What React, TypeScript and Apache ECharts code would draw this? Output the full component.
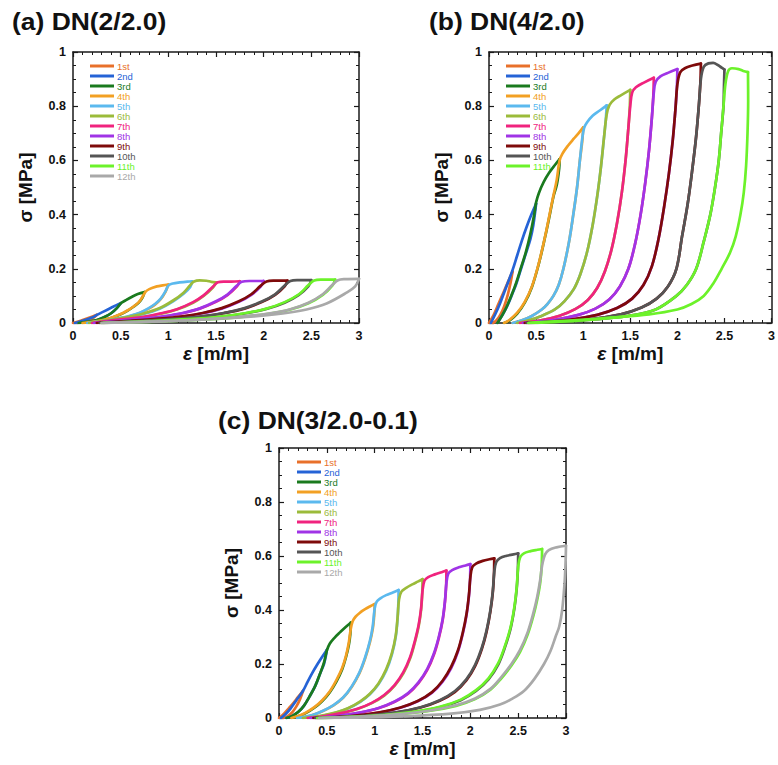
import React, { useEffect, useRef } from 'react';
import * as echarts from 'echarts';

const CYCLE_NAMES = ['1st', '2nd', '3rd', '4th', '5th', '6th', '7th', '8th', '9th', '10th', '11th', '12th'];
const CYCLE_COLORS = ['#E8702A', '#2563D6', '#1A7A1E', '#F2A023', '#5BB9EE', '#9BBB3A', '#F0237E', '#A034E6', '#7E0A0A', '#555555', '#6CF22A', '#A9A9A9'];
const PANEL_TITLES = ['(a) DN(2/2.0)', '(b) DN(4/2.0)', '(c) DN(3/2.0-0.1)'];
const STRAIN_MIN = 0, STRAIN_MAX = 3, STRAIN_STEP = 0.5;
const STRESS_MIN = 0, STRESS_MAX = 1, STRESS_STEP = 0.2;

// ---------- Panel (a) DN(2/2.0): loading and unloading branches per cycle ----------
const loadingA = [
  [[0,0],[0.08,0.008],[0.16,0.018],[0.25,0.03]],
  [[0.02,0],[0.1,0.008],[0.2,0.02],[0.25,0.03],[0.32,0.042],[0.4,0.056],[0.45,0.065],[0.5,0.073]],
  [[0.06,0],[0.15,0.004],[0.25,0.011],[0.32,0.02],[0.4,0.036],[0.46,0.055],[0.5,0.072],[0.55,0.083],[0.62,0.097],[0.68,0.107],[0.75,0.114]],
  [[0.1,0],[0.2,0.004],[0.3,0.01],[0.4,0.019],[0.5,0.033],[0.57,0.046],[0.635,0.061],[0.69,0.077],[0.73,0.097],[0.76,0.115],[0.8,0.125],[0.88,0.135],[0.94,0.139],[1.0,0.142]],
  [[0.15,0],[0.26,0.005],[0.38,0.011],[0.5,0.019],[0.6,0.027],[0.7,0.038],[0.79,0.054],[0.86,0.07],[0.92,0.09],[0.97,0.117],[1.0,0.138],[1.05,0.146],[1.12,0.15],[1.2,0.153],[1.25,0.154]],
  [[0.17,0],[0.25,0.005],[0.39,0.012],[0.56,0.021],[0.74,0.035],[0.91,0.055],[1.05,0.083],[1.16,0.112],[1.23,0.14],[1.27,0.153],[1.33,0.157],[1.4,0.156],[1.45,0.152],[1.5,0.15]],
  [[0.2,0],[0.39,0.009],[0.56,0.015],[0.74,0.023],[0.91,0.035],[1.09,0.051],[1.26,0.077],[1.37,0.102],[1.47,0.135],[1.52,0.15],[1.58,0.153],[1.66,0.153],[1.75,0.154]],
  [[0.22,0],[0.5,0.009],[0.75,0.017],[0.95,0.025],[1.15,0.037],[1.33,0.054],[1.5,0.08],[1.62,0.105],[1.72,0.138],[1.77,0.152],[1.85,0.155],[2.0,0.155]],
  [[0.25,0],[0.6,0.008],[0.9,0.016],[1.15,0.025],[1.36,0.037],[1.56,0.055],[1.74,0.08],[1.87,0.106],[1.97,0.138],[2.03,0.153],[2.1,0.156],[2.25,0.156]],
  [[0.28,0],[0.7,0.007],[1.05,0.015],[1.35,0.025],[1.58,0.037],[1.8,0.055],[1.98,0.079],[2.12,0.106],[2.22,0.138],[2.28,0.155],[2.35,0.158],[2.5,0.158]],
  [[0.3,0],[0.8,0.007],[1.2,0.014],[1.55,0.024],[1.8,0.036],[2.03,0.053],[2.22,0.077],[2.37,0.106],[2.47,0.14],[2.53,0.157],[2.6,0.16],[2.75,0.16]],
  [[0.32,0],[0.9,0.006],[1.35,0.013],[1.75,0.023],[2.05,0.035],[2.28,0.051],[2.47,0.075],[2.62,0.106],[2.72,0.14],[2.78,0.158],[2.85,0.162],[3.0,0.163]],
];
const unloadingA = [
  [[0.25,0.03],[0.2,0.015],[0.14,0.006],[0.08,0.001],[0.04,0]],
  [[0.5,0.073],[0.46,0.055],[0.4,0.036],[0.32,0.02],[0.24,0.009],[0.15,0.003],[0.06,0]],
  [[0.75,0.114],[0.73,0.095],[0.69,0.075],[0.635,0.06],[0.57,0.045],[0.5,0.032],[0.4,0.018],[0.28,0.008],[0.16,0.002],[0.1,0]],
  [[1.0,0.142],[0.97,0.115],[0.92,0.088],[0.86,0.068],[0.79,0.052],[0.7,0.037],[0.6,0.026],[0.5,0.018],[0.38,0.01],[0.26,0.004],[0.15,0]],
  [[1.25,0.154],[1.23,0.133],[1.16,0.108],[1.05,0.08],[0.91,0.053],[0.74,0.033],[0.56,0.02],[0.39,0.011],[0.25,0.004],[0.17,0]],
  [[1.5,0.15],[1.47,0.132],[1.37,0.1],[1.26,0.075],[1.09,0.05],[0.91,0.033],[0.74,0.022],[0.56,0.014],[0.39,0.008],[0.2,0]],
  [[1.75,0.154],[1.72,0.135],[1.62,0.103],[1.5,0.078],[1.33,0.053],[1.15,0.036],[0.95,0.024],[0.75,0.016],[0.5,0.008],[0.22,0]],
  [[2.0,0.155],[1.97,0.135],[1.87,0.104],[1.74,0.078],[1.56,0.053],[1.36,0.036],[1.15,0.024],[0.9,0.015],[0.6,0.007],[0.25,0]],
  [[2.25,0.156],[2.22,0.135],[2.12,0.104],[1.98,0.077],[1.8,0.053],[1.58,0.036],[1.35,0.024],[1.05,0.014],[0.7,0.006],[0.28,0]],
  [[2.5,0.158],[2.47,0.136],[2.37,0.104],[2.22,0.075],[2.03,0.052],[1.8,0.035],[1.55,0.023],[1.2,0.013],[0.8,0.006],[0.3,0]],
  [[2.75,0.16],[2.72,0.138],[2.62,0.104],[2.47,0.073],[2.28,0.05],[2.05,0.034],[1.75,0.022],[1.35,0.012],[0.9,0.005],[0.32,0]],
  [[3.0,0.163],[2.96,0.135],[2.87,0.112],[2.66,0.072],[2.45,0.05],[2.2,0.035],[1.9,0.024],[1.5,0.015],[1.0,0.007],[0.5,0.002],[0.3,0]],
];

// ---------- Panel (b) DN(4/2.0) ----------
const loadingB = [
  [[0,0],[0.05,0.03],[0.1,0.07],[0.15,0.11],[0.2,0.15],[0.25,0.19]],
  [[0.02,0],[0.07,0.035],[0.12,0.075],[0.18,0.13],[0.25,0.195],[0.3,0.25],[0.35,0.305],[0.4,0.355],[0.45,0.4],[0.5,0.44]],
  [[0.09,0],[0.14,0.028],[0.19,0.062],[0.245,0.108],[0.29,0.15],[0.34,0.205],[0.39,0.26],[0.44,0.33],[0.48,0.4],[0.5,0.445],[0.53,0.48],[0.58,0.52],[0.64,0.555],[0.7,0.583],[0.75,0.605]],
  [[0.16,0],[0.22,0.012],[0.3,0.038],[0.38,0.078],[0.456,0.135],[0.53,0.222],[0.596,0.32],[0.64,0.395],[0.684,0.47],[0.72,0.53],[0.75,0.6],[0.78,0.625],[0.84,0.655],[0.9,0.68],[0.95,0.7],[1.0,0.722]],
  [[0.25,0],[0.35,0.01],[0.45,0.025],[0.56,0.05],[0.62,0.07],[0.684,0.1],[0.74,0.14],[0.79,0.2],[0.85,0.3],[0.895,0.4],[0.935,0.5],[0.965,0.6],[0.99,0.68],[1.01,0.72],[1.04,0.74],[1.1,0.765],[1.18,0.785],[1.25,0.803]],
  [[0.3,0],[0.42,0.01],[0.55,0.025],[0.7,0.05],[0.8,0.08],[0.9,0.125],[0.97,0.18],[1.04,0.26],[1.1,0.36],[1.15,0.47],[1.19,0.58],[1.22,0.68],[1.25,0.77],[1.28,0.805],[1.33,0.825],[1.4,0.84],[1.5,0.86]],
  [[0.33,0],[0.55,0.01],[0.75,0.027],[0.92,0.052],[1.05,0.085],[1.15,0.13],[1.23,0.19],[1.3,0.27],[1.36,0.37],[1.41,0.48],[1.45,0.6],[1.48,0.72],[1.5,0.8],[1.52,0.85],[1.56,0.87],[1.65,0.888],[1.75,0.905]],
  [[0.36,0],[0.7,0.012],[0.95,0.03],[1.13,0.053],[1.28,0.088],[1.39,0.135],[1.48,0.2],[1.55,0.29],[1.61,0.4],[1.66,0.52],[1.7,0.64],[1.73,0.76],[1.75,0.85],[1.77,0.89],[1.82,0.91],[1.9,0.923],[2.0,0.937]],
  [[0.38,0],[0.85,0.012],[1.15,0.03],[1.36,0.055],[1.52,0.09],[1.64,0.14],[1.73,0.21],[1.8,0.31],[1.86,0.43],[1.91,0.55],[1.95,0.67],[1.98,0.79],[2.0,0.88],[2.03,0.925],[2.08,0.94],[2.16,0.95],[2.25,0.957]],
  [[0.4,0],[1.05,0.013],[1.4,0.032],[1.62,0.057],[1.78,0.09],[1.9,0.135],[1.99,0.2],[2.05,0.32],[2.11,0.44],[2.16,0.57],[2.2,0.69],[2.23,0.81],[2.25,0.9],[2.28,0.945],[2.33,0.958],[2.38,0.96],[2.43,0.952],[2.47,0.942],[2.5,0.935]],
  [[0.42,0],[1.0,0.01],[1.5,0.027],[1.77,0.05],[1.99,0.1],[2.1,0.14],[2.2,0.2],[2.28,0.3],[2.35,0.4],[2.4,0.5],[2.44,0.6],[2.465,0.7],[2.49,0.8],[2.51,0.88],[2.54,0.93],[2.58,0.94],[2.65,0.937],[2.7,0.93],[2.75,0.926]],
];
const unloadingB = [
  [[0.25,0.19],[0.23,0.15],[0.2,0.105],[0.16,0.06],[0.12,0.03],[0.08,0.01],[0.04,0]],
  [[0.5,0.44],[0.49,0.41],[0.47,0.36],[0.44,0.31],[0.39,0.255],[0.34,0.2],[0.29,0.145],[0.245,0.105],[0.19,0.06],[0.14,0.028],[0.09,0]],
  [[0.75,0.605],[0.745,0.57],[0.72,0.51],[0.684,0.466],[0.64,0.39],[0.596,0.318],[0.53,0.22],[0.456,0.133],[0.38,0.075],[0.3,0.035],[0.22,0.01],[0.16,0]],
  [[1.0,0.722],[0.99,0.67],[0.965,0.6],[0.935,0.5],[0.895,0.4],[0.85,0.3],[0.79,0.2],[0.74,0.14],[0.684,0.1],[0.62,0.07],[0.56,0.05],[0.45,0.025],[0.35,0.01],[0.25,0]],
  [[1.25,0.803],[1.24,0.75],[1.22,0.68],[1.19,0.58],[1.15,0.47],[1.1,0.36],[1.04,0.26],[0.97,0.18],[0.9,0.125],[0.8,0.08],[0.7,0.05],[0.55,0.025],[0.42,0.01],[0.3,0]],
  [[1.5,0.86],[1.495,0.8],[1.48,0.72],[1.45,0.6],[1.41,0.48],[1.36,0.37],[1.3,0.27],[1.23,0.19],[1.15,0.13],[1.05,0.085],[0.92,0.052],[0.75,0.027],[0.55,0.01],[0.33,0]],
  [[1.75,0.905],[1.745,0.84],[1.73,0.76],[1.7,0.64],[1.66,0.52],[1.61,0.4],[1.55,0.29],[1.48,0.2],[1.39,0.135],[1.28,0.088],[1.13,0.053],[0.95,0.03],[0.7,0.012],[0.36,0]],
  [[2.0,0.937],[1.995,0.87],[1.98,0.79],[1.95,0.67],[1.91,0.55],[1.86,0.43],[1.8,0.31],[1.73,0.21],[1.64,0.14],[1.52,0.09],[1.36,0.055],[1.15,0.03],[0.85,0.012],[0.38,0]],
  [[2.25,0.957],[2.245,0.89],[2.23,0.81],[2.2,0.69],[2.16,0.57],[2.11,0.44],[2.05,0.32],[1.99,0.2],[1.9,0.135],[1.78,0.09],[1.62,0.057],[1.4,0.032],[1.05,0.013],[0.4,0]],
  [[2.5,0.935],[2.495,0.87],[2.49,0.8],[2.465,0.7],[2.44,0.6],[2.4,0.5],[2.35,0.4],[2.28,0.3],[2.2,0.2],[2.1,0.14],[1.99,0.1],[1.77,0.05],[1.5,0.027],[1.0,0.01],[0.42,0]],
  [[2.75,0.926],[2.752,0.82],[2.745,0.7],[2.73,0.58],[2.705,0.48],[2.67,0.4],[2.62,0.32],[2.56,0.26],[2.47,0.2],[2.38,0.145],[2.28,0.1],[2.15,0.07],[2.0,0.05],[1.7,0.032],[1.3,0.02],[0.9,0.01],[0.5,0.002],[0.42,0]],
];

// ---------- Panel (c) DN(3/2.0-0.1) ----------
const loadingC = [
  [[0,0],[0.05,0.015],[0.1,0.035],[0.15,0.055],[0.2,0.078],[0.25,0.1]],
  [[0.02,0],[0.07,0.015],[0.12,0.035],[0.18,0.065],[0.25,0.1],[0.3,0.135],[0.35,0.168],[0.4,0.198],[0.45,0.226],[0.5,0.252]],
  [[0.08,0],[0.14,0.008],[0.2,0.022],[0.26,0.045],[0.32,0.08],[0.38,0.12],[0.43,0.165],[0.47,0.205],[0.5,0.25],[0.53,0.275],[0.58,0.297],[0.64,0.318],[0.7,0.338],[0.75,0.353]],
  [[0.13,0],[0.2,0.007],[0.28,0.02],[0.37,0.04],[0.45,0.065],[0.53,0.098],[0.6,0.14],[0.66,0.185],[0.7,0.23],[0.73,0.28],[0.75,0.33],[0.77,0.358],[0.8,0.375],[0.85,0.391],[0.9,0.403],[0.95,0.413],[1.0,0.422]],
  [[0.19,0],[0.25,0.003],[0.35,0.011],[0.46,0.027],[0.57,0.048],[0.67,0.076],[0.76,0.117],[0.84,0.168],[0.9,0.224],[0.95,0.285],[0.98,0.34],[1.0,0.405],[1.02,0.43],[1.06,0.443],[1.12,0.455],[1.19,0.465],[1.25,0.474]],
  [[0.25,0],[0.32,0.002],[0.45,0.009],[0.6,0.021],[0.72,0.036],[0.85,0.062],[0.95,0.09],[1.04,0.128],[1.12,0.18],[1.18,0.24],[1.22,0.305],[1.24,0.375],[1.255,0.44],[1.28,0.468],[1.33,0.482],[1.4,0.496],[1.45,0.505],[1.5,0.514]],
  [[0.3,0],[0.48,0.007],[0.65,0.018],[0.82,0.034],[0.97,0.056],[1.1,0.085],[1.21,0.123],[1.3,0.17],[1.37,0.225],[1.42,0.285],[1.46,0.345],[1.485,0.405],[1.5,0.47],[1.52,0.508],[1.56,0.522],[1.63,0.532],[1.7,0.54],[1.75,0.546]],
  [[0.33,0],[0.6,0.007],[0.84,0.02],[1.04,0.037],[1.21,0.061],[1.35,0.092],[1.46,0.133],[1.55,0.182],[1.62,0.24],[1.67,0.3],[1.71,0.365],[1.735,0.435],[1.75,0.5],[1.77,0.535],[1.81,0.548],[1.88,0.558],[1.95,0.565],[2.0,0.57]],
  [[0.36,0],[0.75,0.007],[1.05,0.021],[1.27,0.039],[1.45,0.063],[1.6,0.096],[1.71,0.138],[1.8,0.19],[1.87,0.25],[1.92,0.315],[1.96,0.385],[1.985,0.455],[2.0,0.52],[2.02,0.558],[2.06,0.572],[2.13,0.582],[2.2,0.588],[2.25,0.591]],
  [[0.38,0],[0.85,0.007],[1.22,0.021],[1.48,0.04],[1.68,0.066],[1.84,0.1],[1.96,0.144],[2.05,0.197],[2.12,0.26],[2.17,0.325],[2.21,0.4],[2.235,0.47],[2.25,0.54],[2.27,0.577],[2.31,0.592],[2.38,0.601],[2.45,0.606],[2.5,0.61]],
  [[0.4,0],[0.95,0.007],[1.38,0.022],[1.68,0.041],[1.9,0.068],[2.06,0.103],[2.19,0.147],[2.29,0.202],[2.36,0.265],[2.42,0.335],[2.46,0.41],[2.485,0.485],[2.5,0.56],[2.52,0.595],[2.56,0.61],[2.63,0.618],[2.7,0.623],[2.75,0.626]],
  [[0.42,0],[1.1,0.01],[1.55,0.026],[1.85,0.047],[2.05,0.072],[2.21,0.108],[2.32,0.15],[2.43,0.2],[2.52,0.252],[2.6,0.318],[2.66,0.39],[2.7,0.45],[2.73,0.51],[2.75,0.565],[2.78,0.605],[2.82,0.622],[2.9,0.632],[3.0,0.638]],
];
const unloadingC = [
  [[0.25,0.1],[0.22,0.07],[0.18,0.042],[0.14,0.022],[0.1,0.009],[0.06,0.002],[0.03,0]],
  [[0.5,0.252],[0.49,0.23],[0.47,0.2],[0.43,0.165],[0.38,0.12],[0.32,0.08],[0.26,0.045],[0.2,0.022],[0.14,0.008],[0.08,0]],
  [[0.75,0.353],[0.745,0.31],[0.73,0.27],[0.7,0.225],[0.66,0.18],[0.6,0.135],[0.53,0.095],[0.45,0.062],[0.37,0.038],[0.28,0.018],[0.2,0.006],[0.13,0]],
  [[1.0,0.422],[0.995,0.38],[0.98,0.33],[0.95,0.28],[0.9,0.22],[0.84,0.165],[0.76,0.115],[0.67,0.075],[0.57,0.047],[0.46,0.026],[0.35,0.011],[0.25,0.003],[0.19,0]],
  [[1.25,0.474],[1.248,0.43],[1.24,0.37],[1.22,0.3],[1.18,0.235],[1.12,0.175],[1.04,0.125],[0.95,0.088],[0.85,0.06],[0.72,0.035],[0.6,0.02],[0.45,0.008],[0.32,0.002],[0.25,0]],
  [[1.5,0.514],[1.497,0.46],[1.485,0.4],[1.46,0.34],[1.42,0.28],[1.37,0.22],[1.3,0.165],[1.21,0.12],[1.1,0.083],[0.97,0.055],[0.82,0.033],[0.65,0.017],[0.48,0.007],[0.3,0]],
  [[1.75,0.546],[1.747,0.49],[1.735,0.43],[1.71,0.36],[1.67,0.295],[1.62,0.235],[1.55,0.178],[1.46,0.13],[1.35,0.09],[1.21,0.06],[1.04,0.036],[0.84,0.019],[0.6,0.007],[0.33,0]],
  [[2.0,0.57],[1.997,0.51],[1.985,0.45],[1.96,0.38],[1.92,0.31],[1.87,0.245],[1.8,0.185],[1.71,0.135],[1.6,0.094],[1.45,0.062],[1.27,0.038],[1.05,0.02],[0.75,0.007],[0.36,0]],
  [[2.25,0.591],[2.247,0.53],[2.235,0.465],[2.21,0.395],[2.17,0.32],[2.12,0.255],[2.05,0.192],[1.96,0.14],[1.84,0.097],[1.68,0.064],[1.48,0.039],[1.22,0.02],[0.85,0.007],[0.38,0]],
  [[2.5,0.61],[2.497,0.55],[2.485,0.48],[2.46,0.405],[2.42,0.33],[2.36,0.26],[2.29,0.197],[2.19,0.143],[2.06,0.1],[1.9,0.066],[1.68,0.04],[1.38,0.021],[0.95,0.007],[0.4,0]],
  [[2.75,0.626],[2.745,0.56],[2.73,0.5],[2.7,0.44],[2.66,0.38],[2.6,0.31],[2.52,0.245],[2.43,0.195],[2.32,0.145],[2.21,0.105],[2.05,0.07],[1.85,0.045],[1.55,0.025],[1.1,0.01],[0.42,0]],
  [[3.0,0.638],[2.995,0.57],[2.985,0.5],[2.96,0.4],[2.93,0.34],[2.89,0.3],[2.84,0.25],[2.77,0.2],[2.67,0.145],[2.56,0.1],[2.43,0.07],[2.31,0.05],[2.1,0.03],[1.8,0.016],[1.3,0.006],[0.8,0.001],[0.45,0]],
];

const PANELS = [
  { load: loadingA, unload: unloadingA },
  { load: loadingB, unload: unloadingB },
  { load: loadingC, unload: unloadingC },
];

// layout (pixels)
const GRIDS = [
  { left: 73, top: 52, width: 286, height: 271 },
  { left: 489, top: 52, width: 287, height: 271 },
  { left: 279, top: 448, width: 287, height: 270 },
];
const TITLE_POS = [[12, 22], [429, 22], [218, 421]];
const LEGEND_POS = [[90, 61], [506, 61], [297, 457]];

const FONT = 'Arial, "Liberation Sans", sans-serif';
const AXIS_COLOR = '#1a1a1a';

function buildOption() {
  const grid: any[] = [];
  const xAxis: any[] = [];
  const yAxis: any[] = [];
  const series: any[] = [];
  const legend: any[] = [];
  const graphic: any[] = [];

  const tickCommon = {
    axisLine: { show: true, onZero: false, lineStyle: { color: AXIS_COLOR, width: 1.5 } },
    axisTick: { show: true, inside: true, length: 5, lineStyle: { color: AXIS_COLOR, width: 1.2 } },
    minorTick: { show: true, length: 3, lineStyle: { color: AXIS_COLOR, width: 1 } },
    splitLine: { show: false },
    minorSplitLine: { show: false },
  };
  const labelStyle = { fontFamily: FONT, fontWeight: 'bold', fontSize: 12.5, color: '#111' };

  GRIDS.forEach((g, p) => {
    grid.push({ ...g, show: false, containLabel: false });
    xAxis.push({
      gridIndex: p, type: 'value', position: 'bottom',
      min: STRAIN_MIN, max: STRAIN_MAX, interval: STRAIN_STEP,
      ...tickCommon,
      minorTick: { ...tickCommon.minorTick, splitNumber: 5 },
      axisLabel: { ...labelStyle, margin: 6 },
      name: '{g|ε} [m/m]', nameLocation: 'middle', nameGap: 21,
      nameTextStyle: {
        fontFamily: FONT, fontWeight: 'bold', fontSize: 19, color: '#111',
        rich: { g: { fontFamily: FONT, fontWeight: 'bold', fontStyle: 'italic', fontSize: 19, color: '#111' } },
      },
    });
    xAxis.push({
      gridIndex: p, type: 'value', position: 'top',
      min: STRAIN_MIN, max: STRAIN_MAX, interval: STRAIN_STEP,
      ...tickCommon,
      minorTick: { ...tickCommon.minorTick, splitNumber: 5 },
      axisLabel: { show: false },
    });
    yAxis.push({
      gridIndex: p, type: 'value', position: 'left',
      min: STRESS_MIN, max: STRESS_MAX, interval: STRESS_STEP,
      ...tickCommon,
      minorTick: { ...tickCommon.minorTick, splitNumber: 4 },
      axisLabel: { ...labelStyle, margin: 7 },
      name: 'σ [MPa]', nameLocation: 'middle', nameGap: 38, nameRotate: 90,
      nameTextStyle: { fontFamily: FONT, fontWeight: 'bold', fontSize: 19, color: '#111' },
    });
    yAxis.push({
      gridIndex: p, type: 'value', position: 'right',
      min: STRESS_MIN, max: STRESS_MAX, interval: STRESS_STEP,
      ...tickCommon,
      minorTick: { ...tickCommon.minorTick, splitNumber: 4 },
      axisLabel: { show: false },
    });

    const panel = PANELS[p];
    const names: string[] = [];
    panel.load.forEach((pts, i) => {
      names.push(CYCLE_NAMES[i]);
      const common = {
        type: 'line', name: CYCLE_NAMES[i], xAxisIndex: p * 2, yAxisIndex: p * 2,
        showSymbol: false, symbol: 'none', smooth: 0.35,
        color: CYCLE_COLORS[i],
        lineStyle: { color: CYCLE_COLORS[i], width: 2.7, join: 'round', cap: 'round' },
        z: 2 + i, silent: true,
      };
      series.push({ ...common, data: pts });
      series.push({ ...common, data: panel.unload[i] });
    });

    legend.push({
      left: LEGEND_POS[p][0], top: LEGEND_POS[p][1], orient: 'vertical',
      icon: 'rect', itemWidth: 24, itemHeight: 3, itemGap: 0, padding: 0,
      selectedMode: false,
      textStyle: { fontFamily: FONT, fontSize: 9.5, lineHeight: 9, padding: [0, 0, 0, -2] },
      data: names.map((n, i) => ({ name: n, textStyle: { color: CYCLE_COLORS[i] } })),
    });

    graphic.push({
      type: 'text', x: TITLE_POS[p][0], y: TITLE_POS[p][1], scaleX: 1.15,
      style: {
        text: PANEL_TITLES[p], font: 'bold 23px Arial, "Liberation Sans", sans-serif',
        fill: '#111', verticalAlign: 'middle', align: 'left',
      },
    });
  });

  return { animation: false, backgroundColor: '#ffffff', grid, xAxis, yAxis, series, legend, graphic };
}

export default function App() {
  const ref = useRef<HTMLDivElement>(null);
  useEffect(() => {
    if (!ref.current) return;
    const chart = echarts.init(ref.current, null, { renderer: 'svg' });
    chart.setOption(buildOption());
    return () => chart.dispose();
  }, []);
  return (
    <div
      ref={ref}
      style={{ position: 'absolute', left: 0, top: 0, width: 778, height: 765, background: '#fff' }}
    />
  );
}
